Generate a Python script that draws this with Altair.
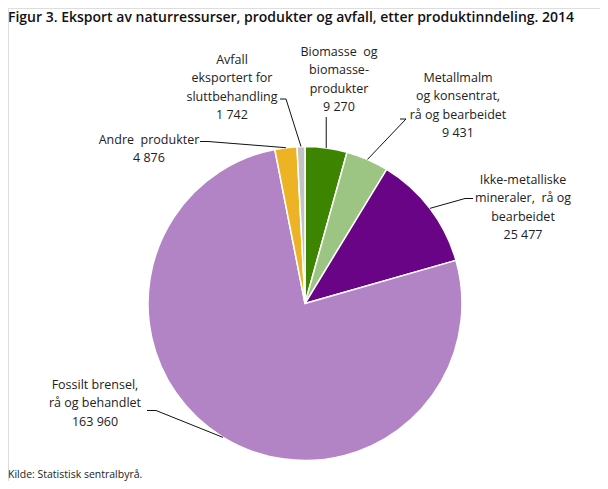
import math
import altair as alt
import pandas as pd

# ---- data ----
categories = [
    "Biomasse og biomasseprodukter",
    "Metallmalm og konsentrat, rå og bearbeidet",
    "Ikke-metalliske mineraler, rå og bearbeidet",
    "Fossilt brensel, rå og behandlet",
    "Andre produkter",
    "Avfall eksportert for sluttbehandling",
]
values = [9270, 9431, 25477, 163960, 4876, 1742]
value_labels = ["9 270", "9 431", "25 477", "163 960", "4 876", "1 742"]
label_lines = [
    ["Biomasse\u00a0 og", "biomasse-", "produkter"],
    ["Metallmalm", "og konsentrat,", "rå og bearbeidet"],
    ["Ikke-metalliske", "mineraler,\u00a0 rå og", "bearbeidet"],
    ["Fossilt brensel,", "rå og behandlet"],
    ["Andre\u00a0 produkter"],
    ["Avfall", "eksportert for", "sluttbehandling"],
]
colors = ["#3d8400", "#9cc584", "#680485", "#b384c5", "#ecb425", "#c3c3c3"]

# ---- layout (page coordinates, shifted by the 8px page margin) ----
M = 8
W, H = 608 - 2 * M, 489 - 2 * M
cx, cy, R = 305 - M, 303.5 - M, 157
# label block centres (x, first-line y) and leader-line elbow points
label_pos = [(339, 52), (458, 78), (523, 180), (95, 385), (149, 140), (232, 60)]
elbows = [
    None,
    [(400, 119), (406, 119)],
    [(473, 198.5), (465, 198.5)],
    [(147, 410.5), (156, 410.5)],
    [(200, 141.5), (208, 141.5)],
    [(280, 99), (286, 99)],
]
LH = 18.4

df = pd.DataFrame({"cat": categories, "value": values, "order": range(len(values))})

pie = (
    alt.Chart(df)
    .mark_arc(outerRadius=R, stroke="white", strokeWidth=1.5)
    .encode(
        theta=alt.Theta("value:Q", stack=True),
        order=alt.Order("order:Q"),
        color=alt.Color("cat:N", scale=alt.Scale(domain=categories, range=colors), legend=None),
        x=alt.value(cx),
        y=alt.value(cy),
    )
)

# text rows
rows = []
for i, (lines, vl) in enumerate(zip(label_lines, value_labels)):
    x0, y0 = label_pos[i]
    for j, t in enumerate(lines + [vl]):
        rows.append({"t": t, "x": x0 - M, "y": y0 + j * LH - M})
tdf = pd.DataFrame(rows)
labels = (
    alt.Chart(tdf)
    .mark_text(font="Open Sans", fontSize=12.5, color="#222222", align="center", baseline="middle")
    .encode(x=alt.X("x:Q", scale=None), y=alt.Y("y:Q", scale=None), text="t:N")
)

# leader lines: elbow(s) -> slice edge at mid angle (from data)
total = sum(values)
pts = []
cum = 0
for i, v in enumerate(values):
    mid = (cum + v / 2) / total * 2 * math.pi
    cum += v
    ex, ey = cx + R * math.sin(mid), cy - R * math.cos(mid)
    if elbows[i] is None:
        seq = [(ex, 117 - M), (ex, ey)]
    else:
        seq = [(px - M, py - M) for px, py in elbows[i]] + [(ex, ey)]
    for k, (px, py) in enumerate(seq):
        pts.append({"g": i, "k": k, "x": px, "y": py})
ldf = pd.DataFrame(pts)
leaders = (
    alt.Chart(ldf)
    .mark_line(color="#111111", strokeWidth=1)
    .encode(
        x=alt.X("x:Q", scale=None),
        y=alt.Y("y:Q", scale=None),
        detail="g:N",
        order="k:Q",
    )
)

title_df = pd.DataFrame({"t": ["Figur 3. Eksport av naturressurser, produkter og avfall, etter produktinndeling. 2014"]})
title = (
    alt.Chart(title_df)
    .mark_text(font="Open Sans", fontSize=14, fontWeight=600, color="#111111", align="left", baseline="middle")
    .encode(x=alt.value(0), y=alt.value(18 - M), text="t:N")
)
src_df = pd.DataFrame({"t": ["Kilde: Statistisk sentralbyrå."]})
source = (
    alt.Chart(src_df)
    .mark_text(font="Open Sans", fontSize=10.5, color="#222222", align="left", baseline="middle")
    .encode(x=alt.value(0), y=alt.value(475 - M), text="t:N")
)

chart = (
    alt.layer(pie, leaders, labels, title, source)
    .properties(width=W, height=H, autosize=alt.AutoSizeParams(type="none"), padding=0)
    .configure_view(stroke=None)
    .configure(background="white")
)
chart.save("out.html", embed_options={"renderer": "svg", "actions": False})
